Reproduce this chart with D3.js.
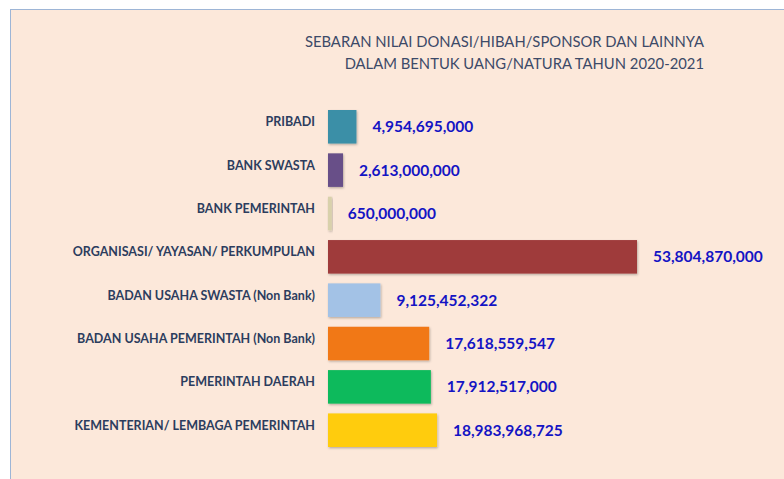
<!DOCTYPE html>
<html>
<head>
<meta charset="utf-8">
<script src="https://cdn.jsdelivr.net/npm/d3@7"></script>
<style>
  html, body { margin: 0; padding: 0; background: #ffffff; }
  svg { display: block; }
</style>
</head>
<body>
<svg id="chart" width="784" height="479"></svg>
<script>
// Donation sources and their total values (Rupiah), top to bottom
const categories = [
  "PRIBADI",
  "BANK SWASTA",
  "BANK PEMERINTAH",
  "ORGANISASI/ YAYASAN/ PERKUMPULAN",
  "BADAN USAHA SWASTA (Non Bank)",
  "BADAN USAHA PEMERINTAH (Non Bank)",
  "PEMERINTAH DAERAH",
  "KEMENTERIAN/ LEMBAGA PEMERINTAH"
];
const values = [
  4954695000,
  2613000000,
  650000000,
  53804870000,
  9125452322,
  17618559547,
  17912517000,
  18983968725
];
const barColors = [
  "#3b8fa7", "#674f88", "#d9d1ab", "#9f3b3b",
  "#a3c2e6", "#f17818", "#0bba5b", "#ffcc08"
];
const titleLines = [
  "SEBARAN NILAI DONASI/HIBAH/SPONSOR DAN LAINNYA",
  "DALAM BENTUK UANG/NATURA TAHUN 2020-2021"
];

const rows = categories.map((c, i) => ({ cat: c, val: values[i], color: barColors[i] }));

const svg = d3.select("#chart");
const W = 784, H = 479;

// Panel background with a thin border on the left and top
svg.append("rect").attr("x", 10).attr("y", 9).attr("width", W).attr("height", H)
  .attr("fill", "#fce8da");
svg.append("line").attr("x1", 10.5).attr("y1", 9).attr("x2", 10.5).attr("y2", H)
  .attr("stroke", "#9db5d6").attr("stroke-width", 1);
svg.append("line").attr("x1", 10).attr("y1", 9.5).attr("x2", W).attr("y2", 9.5)
  .attr("stroke", "#9db5d6").attr("stroke-width", 1);

// Soft shadow under bars
const defs = svg.append("defs");
const f = defs.append("filter").attr("id", "shadow")
  .attr("x", "-20%").attr("y", "-20%").attr("width", "140%").attr("height", "150%");
f.append("feDropShadow").attr("dx", 0.8).attr("dy", 1.2).attr("stdDeviation", 0.8)
  .attr("flood-color", "#000").attr("flood-opacity", 0.28);

// Title
const title = svg.append("text")
  .attr("text-anchor", "end")
  .attr("font-family", "Lato, 'Open Sans', sans-serif")
  .attr("font-size", 14.8)
  .attr("fill", "#3c4a68");
titleLines.forEach((t, i) => {
  title.append("tspan").attr("x", 704).attr("y", 47 + i * 21.5).text(t);
});

const x = d3.scaleLinear()
  .domain([0, d3.max(values)])
  .range([328, 637]);

const y = d3.scaleBand()
  .domain(categories)
  .range([110, 447])
  .paddingInner(0.226)
  .paddingOuter(0);

// Bars
svg.append("g").selectAll("rect")
  .data(rows)
  .join("rect")
  .attr("x", x(0))
  .attr("y", d => y(d.cat))
  .attr("width", d => x(d.val) - x(0))
  .attr("height", y.bandwidth())
  .attr("fill", d => d.color)
  .attr("filter", "url(#shadow)");

// Category labels
svg.append("g").selectAll("text")
  .data(rows)
  .join("text")
  .attr("x", 315)
  .attr("y", d => y(d.cat) + y.bandwidth() / 2 - 5)
  .attr("dy", "0.35em")
  .attr("text-anchor", "end")
  .attr("font-family", "Lato, 'Open Sans', sans-serif")
  .attr("font-weight", "bold")
  .attr("font-size", 12.5)
  .attr("fill", "#2c3d5e")
  .text(d => d.cat);

// Value labels
const fmt = d3.format(",");
svg.append("g").selectAll("text")
  .data(rows)
  .join("text")
  .attr("x", d => x(d.val) + 16)
  .attr("y", d => y(d.cat) + y.bandwidth() / 2)
  .attr("dy", "0.35em")
  .attr("font-family", "Lato, 'Open Sans', sans-serif")
  .attr("font-weight", "bold")
  .attr("font-size", 15.5)
  .attr("fill", "#1414c4")
  .text(d => fmt(d.val));
</script>
</body>
</html>
